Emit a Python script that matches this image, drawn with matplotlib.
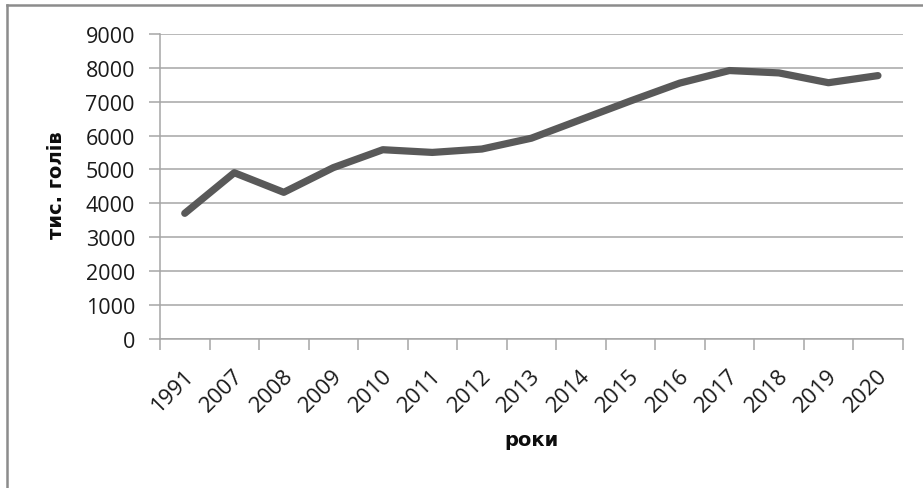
import matplotlib
matplotlib.use("Agg")
import matplotlib.pyplot as plt
from matplotlib.lines import Line2D
from matplotlib.transforms import ScaledTranslation

years = ["1991", "2007", "2008", "2009", "2010", "2011", "2012", "2013",
         "2014", "2015", "2016", "2017", "2018", "2019", "2020"]
values = [3700, 4900, 4320, 5050, 5580, 5500, 5600, 5920,
          6470, 7020, 7550, 7920, 7850, 7560, 7770]
yticks = [0, 1000, 2000, 3000, 4000, 5000, 6000, 7000, 8000, 9000]

W, H = 923, 489
fig = plt.figure(figsize=(W / 100, H / 100), dpi=100)
ax = fig.add_axes([160 / W, 1 - 339.5 / H, (902.7 - 160) / W, (339.5 - 35) / H])

grid_c = "#a6a6a6"
xs = [i + 0.5 for i in range(len(years))]
ax.plot(xs, values, color="#595959", lw=5.2, solid_capstyle="round",
        solid_joinstyle="round", zorder=3)

ax.set_xlim(0, len(years))
ax.set_ylim(0, 9000)
ax.set_yticks(yticks)
ax.set_yticklabels([str(v) for v in yticks])
ax.yaxis.grid(True, color=grid_c, lw=1.1)
ax.set_axisbelow(True)

ax.set_xticks(range(len(years) + 1))
ax.set_xticklabels([])
ax.set_xticks(xs, minor=True)
ax.set_xticklabels(years, minor=True, rotation=45, ha="right", va="center",
                   rotation_mode="anchor")
ax.tick_params(axis="x", which="minor", length=0, pad=24)
ax.tick_params(axis="x", which="major", length=8, color=grid_c, width=1.1)
ax.tick_params(axis="y", length=8, color=grid_c, width=1.1, pad=10)

for lab in ax.get_xticklabels(minor=True) + ax.get_yticklabels():
    lab.set_fontfamily("Open Sans")
    lab.set_fontsize(15.5)
    lab.set_color("#1a1a1a")
shift = ScaledTranslation(6 / 100, 0, fig.dpi_scale_trans)
for lab in ax.get_xticklabels(minor=True):
    lab.set_fontsize(16)
    lab.set_transform(lab.get_transform() + shift)

for s in ["top", "right"]:
    ax.spines[s].set_visible(False)
for s in ["left", "bottom"]:
    ax.spines[s].set_color(grid_c)
    ax.spines[s].set_linewidth(1.1)

fig.text(57 / W, 1 - 185 / H, "тис. голів", rotation=90, ha="center", va="center",
         fontsize=14, fontweight="bold", family="DejaVu Sans", color="#0d0d0d")
fig.text(531 / W, 1 - 441 / H, "роки", ha="center", va="center",
         fontsize=14, fontweight="bold", family="DejaVu Sans", color="#0d0d0d")

# outer chart border (top and left visible)
fig.add_artist(Line2D([6.5 / W, 6.5 / W], [0, 1 - 5.5 / H], color="#8c8c8c", lw=1.8,
                      transform=fig.transFigure))
fig.add_artist(Line2D([6.5 / W, 1], [1 - 5.5 / H, 1 - 5.5 / H], color="#8c8c8c", lw=1.8,
                      transform=fig.transFigure))

fig.savefig("out.png", dpi=100, facecolor="white")
